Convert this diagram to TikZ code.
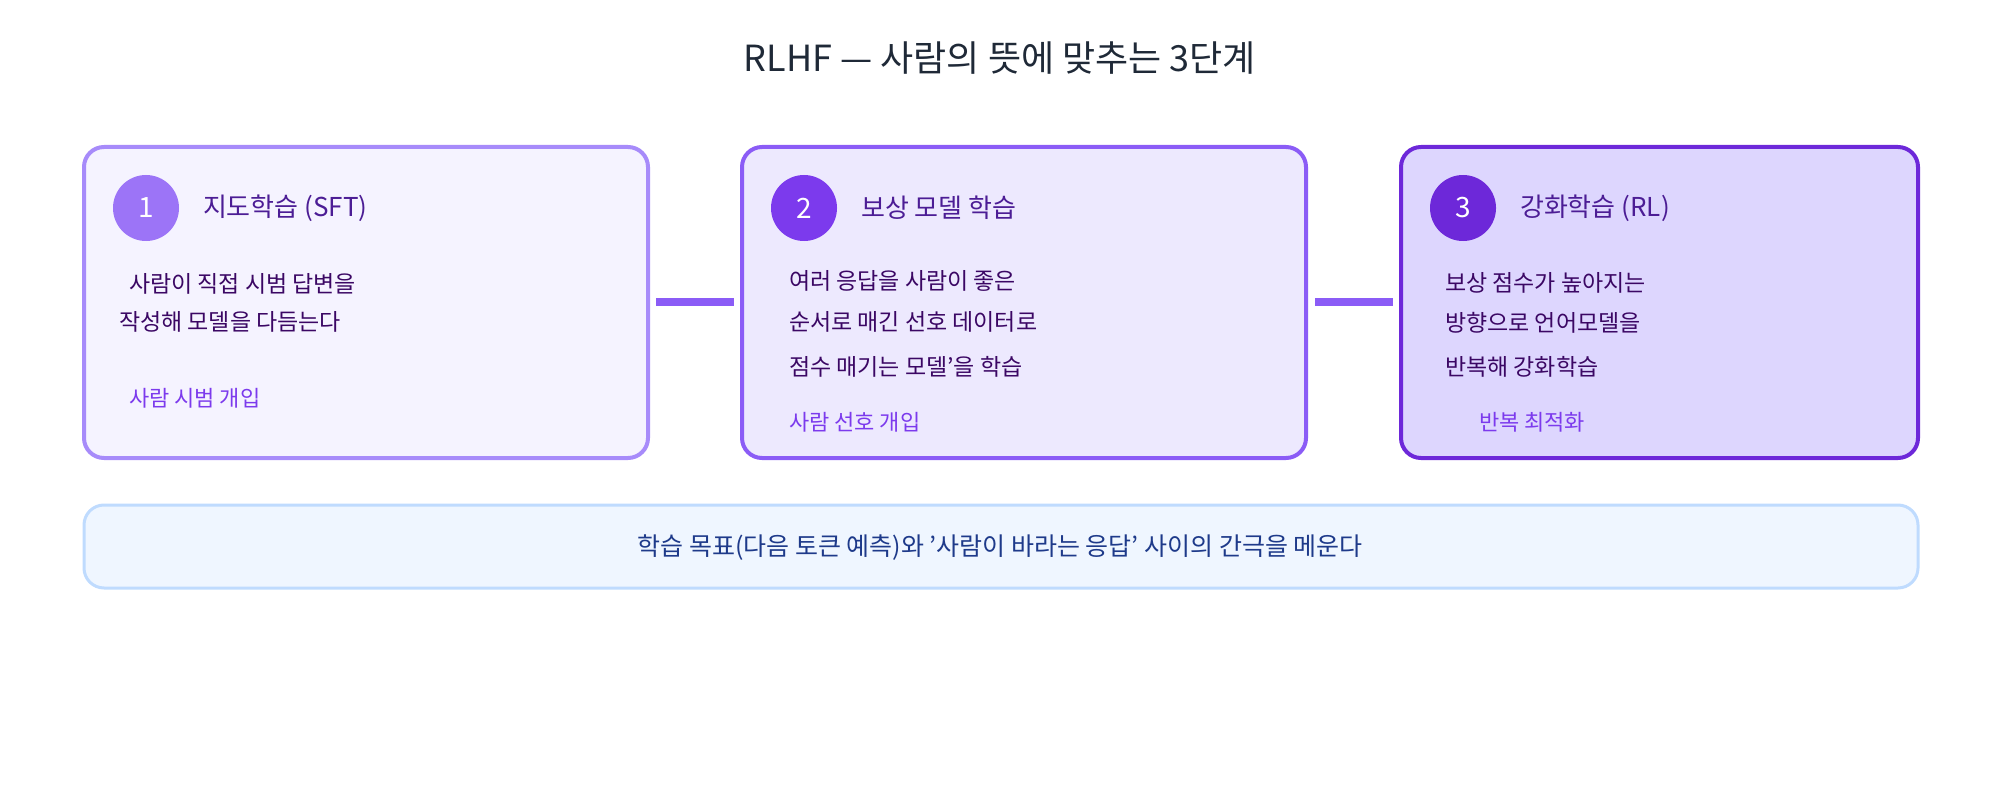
\documentclass[tikz,border=0pt]{standalone}
\usepackage{fontspec}
\setmainfont{Noto Sans CJK KR}
\usetikzlibrary{positioning}
\definecolor{boxA}{HTML}{F5F3FF}
\definecolor{lineA}{HTML}{A78BFA}
\definecolor{boxB}{HTML}{EDE9FE}
\definecolor{lineB}{HTML}{8B5CF6}
\definecolor{boxC}{HTML}{DDD6FE}
\definecolor{lineC}{HTML}{6D28D9}
\definecolor{headtxt}{HTML}{4C1D95}
\definecolor{bodytxt}{HTML}{3B0764}
\definecolor{notetxt}{HTML}{7C3AED}
\definecolor{bannerfill}{HTML}{EFF6FF}
\definecolor{bannerline}{HTML}{BFDBFE}
\definecolor{bannertxt}{HTML}{1E3A8A}
\tikzset{
  stage/.style={draw, line width=2pt, rounded corners=10pt},
  badge/.style={circle, minimum size=33pt, inner sep=0pt, text=white, font=\fontsize{14}{14}\selectfont},
  head/.style={anchor=west, text=headtxt, font=\fontsize{13}{13}\selectfont},
  body/.style={anchor=west, text=bodytxt, font=\fontsize{11.5}{12}\selectfont},
  note/.style={anchor=west, text=notetxt, font=\fontsize{11}{11}\selectfont},
  link/.style={draw=lineB, line width=4pt},
}
\begin{document}
\begin{tikzpicture}[x=0.5pt,y=-0.5pt]
\useasboundingbox (0,0) rectangle (2000,791);
% title
\node (title) at (1000,58) {\fontsize{18}{18}\selectfont\color[HTML]{1F2937}RLHF — 사람의 뜻에 맞추는 3단계};
% stage boxes
\path[stage, draw=lineA, fill=boxA] (84,147) rectangle (648,458);
\path[stage, draw=lineB, fill=boxB] (742,147) rectangle (1306,458);
\path[stage, draw=lineC, fill=boxC] (1401,147) rectangle (1918,458);
\coordinate (eA) at (656,302); \coordinate (sB) at (734,302);
\coordinate (eB) at (1315,302); \coordinate (sC) at (1393,302);
\draw[link] (eA) -- (sB);
\draw[link] (eB) -- (sC);
% stage 1
\node[badge, fill=lineB!85!white] (n1) at (146,208) {1};
\node[head] (h1) at (196,208) {지도학습 (SFT)};
\node[body] (b1a) at (122,284) {사람이 직접 시범 답변을};
\node[body] (b1b) at (112,322) {작성해 모델을 다듬는다};
\node[note] (f1) at (122,398) {사람 시범 개입};
% stage 2
\node[badge, fill=notetxt] (n2) at (804,208) {2};
\node[head] (h2) at (854,208) {보상 모델 학습};
\node[body] (b2a) at (782,281) {여러 응답을 사람이 좋은};
\node[body] (b2b) at (782,322) {순서로 매긴 선호 데이터로};
\node[body] (b2c) at (782,367) {점수 매기는 모델'을 학습};
\node[note] (f2) at (782,422) {사람 선호 개입};
% stage 3
\node[badge, fill=lineC] (n3) at (1463,208) {3};
\node[head] (h3) at (1513,208) {강화학습 (RL)};
\node[body] (b3a) at (1438,283) {보상 점수가 높아지는};
\node[body] (b3b) at (1438,323) {방향으로 언어모델을};
\node[body] (b3c) at (1438,367) {반복해 강화학습};
\node[note] (f3) at (1472,422) {반복 최적화};
% banner
\path[stage, line width=1.5pt, draw=bannerline, fill=bannerfill] (84,505) rectangle (1918,588);
\node[text=bannertxt, font=\fontsize{12.5}{13}\selectfont] (msg) at (1000,548) {학습 목표(다음 토큰 예측)와 '사람이 바라는 응답' 사이의 간극을 메운다};
\end{tikzpicture}
\end{document}
